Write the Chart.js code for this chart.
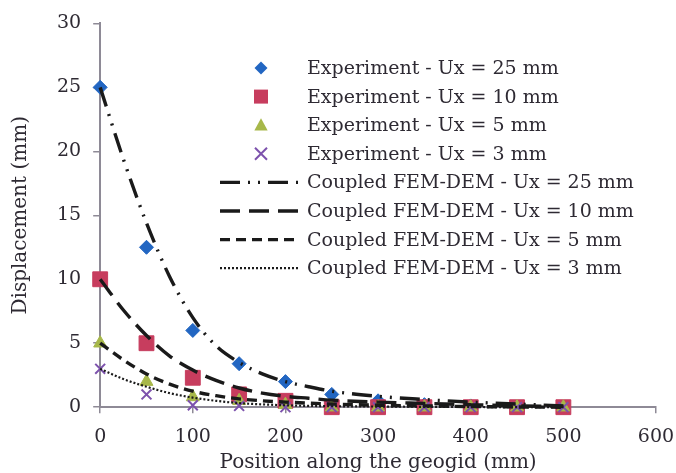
<!DOCTYPE html>
<html>
<head>
<meta charset="utf-8">
<script src="https://cdn.jsdelivr.net/npm/chart.js@4/dist/chart.umd.min.js"></script>
<style>
  html, body { margin: 0; padding: 0; background: #ffffff; }
  #wrap { width: 676px; height: 473px; }
</style>
</head>
<body>
<div id="wrap"><canvas id="c" width="676" height="473"></canvas></div>
<script>
// Measured positions along the geogrid (mm)
const positions = [0, 50, 100, 150, 200, 250, 300, 350, 400, 450, 500];
// Experimental displacement (mm)
const exp25 = [25, 12.5, 6, 3.4, 2, 1, 0.5, 0.2, 0.1, 0, 0];
const exp10 = [10, 5, 2.3, 1, 0.5, 0, 0, 0, 0, 0, 0];
const exp5  = [5, 2, 0.8, 0.5, 0.2, 0, 0, 0, 0, 0, 0];
const exp3  = [3, 1, 0.15, 0.1, 0, 0, 0, 0, 0, 0, 0];

// Coupled FEM-DEM prediction (mm)
const femPositions = [0, 25, 50, 75, 100, 125, 150, 175, 200, 225, 250, 300, 350, 400, 450, 500];
const fem25 = [25, 19.4, 14.4, 10.2, 7.0, 4.8, 3.5, 2.6, 2.0, 1.6, 1.25, 0.85, 0.6, 0.4, 0.25, 0.1];
const fem10 = [10, 7.6, 5.6, 4.0, 2.9, 2.1, 1.5, 1.1, 0.85, 0.7, 0.55, 0.4, 0.3, 0.2, 0.1, 0.05];
const fem5  = [5, 3.7, 2.6, 1.8, 1.25, 0.9, 0.65, 0.5, 0.4, 0.32, 0.25, 0.15, 0.1, 0.05, 0.02, 0];
const fem3  = [3, 2.2, 1.6, 1.1, 0.75, 0.5, 0.32, 0.22, 0.15, 0.1, 0.08, 0.05, 0.03, 0.02, 0, 0];

const xTicks = [0, 100, 200, 300, 400, 500, 600];
const yTicks = [0, 5, 10, 15, 20, 25, 30];

const SERIF = '"DejaVu Serif", "Liberation Serif", serif';
const TEXT = '#2e2a33';
const AXIS = '#8e8a96';

const pts = (xs, ys) => xs.map((x, i) => ({ x: x, y: ys[i] }));

function marker(label, xs, ys, color, style, radius) {
  return {
    type: 'scatter', label: label, data: pts(xs, ys),
    pointStyle: style, pointRadius: radius, pointHoverRadius: radius,
    backgroundColor: color, borderColor: color,
    pointBorderWidth: style === 'crossRot' ? 2 : 1,
    showLine: false, clip: false
  };
}
function curve(label, xs, ys, dash, width) {
  return {
    type: 'line', label: label, data: pts(xs, ys),
    borderColor: '#1a1a1a', backgroundColor: '#1a1a1a',
    borderWidth: width, borderDash: dash,
    pointRadius: 0, pointHoverRadius: 0, fill: false,
    cubicInterpolationMode: 'monotone', clip: false
  };
}

// Chart.js paints the first dataset on top: curves, then the smaller markers
const datasets = [
  curve('Coupled FEM-DEM - Ux = 25 mm', femPositions, fem25, [20, 8, 2, 8, 2, 8], 3.4),
  curve('Coupled FEM-DEM - Ux = 10 mm', femPositions, fem10, [20, 9], 3.4),
  curve('Coupled FEM-DEM - Ux = 5 mm', femPositions, fem5, [10, 6], 3.4),
  curve('Coupled FEM-DEM - Ux = 3 mm', femPositions, fem3, [2, 2], 2.2),
  marker('Experiment - Ux = 3 mm', positions, exp3, '#7d52ad', 'crossRot', 7),
  marker('Experiment - Ux = 5 mm', positions, exp5, '#a7b84a', 'triangle', 7.5),
  marker('Experiment - Ux = 10 mm', positions, exp10, '#c73d5e', 'rect', 10.5),
  marker('Experiment - Ux = 25 mm', positions, exp25, '#2266c2', 'rectRot', 7)
];

// Legend order: markers first, then model curves
const legendOrder = [7, 6, 5, 4, 0, 1, 2, 3];

function drawSymbol(ctx, style, x, y, r, color) {
  ctx.save();
  ctx.fillStyle = color;
  ctx.strokeStyle = color;
  ctx.beginPath();
  if (style === 'rectRot') {
    ctx.moveTo(x, y - r); ctx.lineTo(x + r, y); ctx.lineTo(x, y + r); ctx.lineTo(x - r, y);
    ctx.closePath(); ctx.fill();
  } else if (style === 'rect') {
    ctx.rect(x - r, y - r, 2 * r, 2 * r); ctx.fill();
  } else if (style === 'triangle') {
    ctx.moveTo(x, y - r); ctx.lineTo(x + r * 0.95, y + r * 0.75); ctx.lineTo(x - r * 0.95, y + r * 0.75);
    ctx.closePath(); ctx.fill();
  } else {
    ctx.lineWidth = 2;
    ctx.moveTo(x - r, y - r); ctx.lineTo(x + r, y + r);
    ctx.moveTo(x + r, y - r); ctx.lineTo(x - r, y + r);
    ctx.stroke();
  }
  ctx.restore();
}

const insideLegend = {
  id: 'insideLegend',
  afterDraw(chart) {
    const ctx = chart.ctx;
    const x0 = 220, x1 = 298, textX = 307, top = 68, step = 28.6;
    ctx.save();
    ctx.font = '19px ' + SERIF;
    ctx.textBaseline = 'middle';
    legendOrder.forEach((idx, row) => {
      const ds = chart.data.datasets[idx];
      const y = top + row * step;
      if (ds.type === 'scatter') {
        const size = { rectRot: 6.5, rect: 7, triangle: 7, crossRot: 6 }[ds.pointStyle];
        drawSymbol(ctx, ds.pointStyle, 261, y, size, ds.backgroundColor);
      } else {
        ctx.save();
        ctx.strokeStyle = ds.borderColor;
        ctx.lineWidth = ds.borderWidth;
        ctx.setLineDash(ds.borderDash);
        ctx.beginPath();
        ctx.moveTo(x0, y);
        ctx.lineTo(x1, y);
        ctx.stroke();
        ctx.restore();
      }
      ctx.fillStyle = TEXT;
      ctx.fillText(ds.label, textX, y + 1);
    });
    ctx.restore();
  }
};

new Chart(document.getElementById('c'), {
  data: { datasets: datasets },
  options: {
    responsive: false,
    animation: false,
    events: [],
    layout: { padding: { top: 11, right: 20, left: 9, bottom: 0 } },
    plugins: { legend: { display: false }, tooltip: { enabled: false } },
    scales: {
      x: {
        type: 'linear', min: 0, max: 600,
        afterBuildTicks: axis => { axis.ticks = xTicks.map(v => ({ value: v })); },
        afterFit: axis => { axis.paddingRight = 0; },
        grid: { drawOnChartArea: false, drawTicks: true, tickLength: 6, color: AXIS, lineWidth: 1.5 },
        border: { color: AXIS, width: 2 },
        ticks: { color: TEXT, font: { family: SERIF, size: 19 }, padding: 12 },
        title: { display: true, text: 'Position along the geogid (mm)', color: TEXT,
                 font: { family: SERIF, size: 20 }, padding: { top: -9, bottom: -2 } }
      },
      y: {
        type: 'linear', min: 0, max: 30,
        afterBuildTicks: axis => { axis.ticks = yTicks.map(v => ({ value: v })); },
        grid: { drawOnChartArea: false, drawTicks: true, tickLength: 7, color: AXIS, lineWidth: 1.5 },
        border: { color: AXIS, width: 2 },
        ticks: { color: TEXT, font: { family: SERIF, size: 19 }, padding: 12 },
        title: { display: true, text: 'Displacement (mm)', color: TEXT,
                 font: { family: SERIF, size: 20 }, padding: { top: 0, bottom: 12 } }
      }
    }
  },
  plugins: [insideLegend]
});
</script>
</body>
</html>
